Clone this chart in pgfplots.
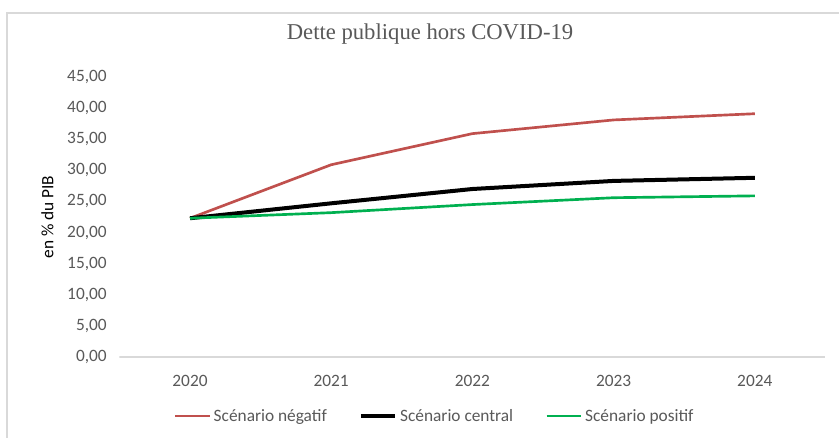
\documentclass[border=0pt]{standalone}
\usepackage{fontspec}
\setmainfont{Carlito}
\newfontfamily\titlefont{Liberation Serif}
\usepackage{pgfplots}
\pgfplotsset{compat=1.18}
\definecolor{negred}{HTML}{C0504D}
\definecolor{posgreen}{HTML}{00B050}
\definecolor{txtgray}{HTML}{595959}
\definecolor{linegray}{HTML}{D9D9D9}

\begin{document}
\begin{tikzpicture}
  \useasboundingbox (0,0) rectangle (629.25pt,327.75pt);
  \fill[white] (0,0) rectangle (629.25pt,327.75pt);
  \draw[linegray, line width=1pt] (5.25pt,-10pt) -- (5.25pt,318pt) -- (640pt,318pt);
  \begin{axis}[
    at={(89.55pt,60pt)}, anchor=south west,
    scale only axis,
    width=529.5pt, height=210pt,
    xmin=2019.5, xmax=2024.5,
    ymin=0, ymax=45,
    axis lines*=left,
    axis line style={draw=none},
    xtick={2020,2021,2022,2023,2024},
    xticklabels={2020,2021,2022,2023,2024},
    ytick={0,5,...,45},
    major tick length=0pt,
    ticklabel style={font=\fontsize{13}{15}\selectfont, text=txtgray},
    yticklabel style={/pgf/number format/fixed, /pgf/number format/fixed zerofill,
      /pgf/number format/precision=2, /pgf/number format/use comma,
      /pgf/number format/assume math mode=true, anchor=east, xshift=-6pt},
    xticklabel style={yshift=-10pt},
    title={Dette publique hors COVID-19},
    title style={at={(axis description cs:0.44,1.125)}, anchor=center, font=\titlefont\fontsize{17}{20}\selectfont, text=txtgray},
    ylabel={en \% du PIB},
    ylabel style={at={(axis description cs:-0.102,0.5)}, anchor=center, font=\fontsize{13}{15}\selectfont, text=black},
    legend columns=3,
    legend style={at={(axis description cs:0.447,-0.211)}, anchor=center, draw=none, fill=none,
      font=\fontsize{13}{15}\selectfont, text=txtgray,
      /tikz/every even column/.append style={column sep=22pt}},
    legend image code/.code={\draw[#1] (0pt,0pt) -- (26pt,0pt);},
  ]
    \draw[linegray, line width=0.8pt] (axis cs:2019.5,0) -- (axis cs:2024.5,0);
    \addplot[negred, line width=2pt] coordinates {(2020,22.3) (2021,30.9) (2022,35.9) (2023,38.1) (2024,39.1)};
    \addlegendentry{Scénario négatif}
    \addplot[black, line width=3pt] coordinates {(2020,22.3) (2021,24.7) (2022,27.0) (2023,28.3) (2024,28.8)};
    \addlegendentry{Scénario central}
    \addplot[posgreen, line width=2pt] coordinates {(2020,22.3) (2021,23.2) (2022,24.5) (2023,25.6) (2024,25.9)};
    \addlegendentry{Scénario positif}
  \end{axis}
\end{tikzpicture}
\end{document}
